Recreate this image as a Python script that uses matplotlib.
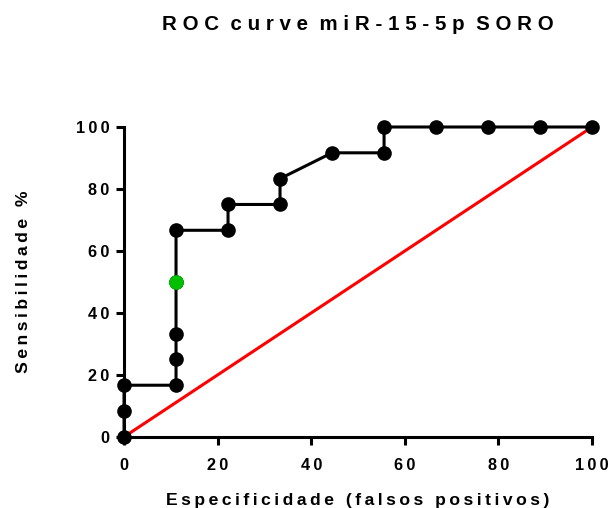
import matplotlib
matplotlib.use("Agg")
import matplotlib.pyplot as plt

plt.rcParams['font.family'] = ['Liberation Sans', 'DejaVu Sans']

# ROC data (100 - specificity, sensitivity)
fpr = [0, 0, 0, 11.11, 11.11, 11.11, 11.11, 11.11, 22.22, 22.22, 33.33, 33.33,
       44.44, 55.56, 55.56, 66.67, 77.78, 88.89, 100]
sens = [0, 8.33, 16.67, 16.67, 25, 33.33, 50, 66.67, 66.67, 75, 75, 83.33,
        91.67, 91.67, 100, 100, 100, 100, 100]
highlight_x = [11.11]
highlight_y = [50]
ref_x = [0, 100]
ref_y = [0, 100]
ticks = [0, 20, 40, 60, 80, 100]

title = "ROC curve miR-15-5p SORO"
xlabel = "Especificidade (falsos positivos)"
ylabel = "Sensibilidade %"

def spaced(s):
    return " ".join(list(s)).replace("   ", "  ")

def thin(s):
    return "\u2009".join(list(s))

fig = plt.figure(figsize=(6.11, 5.08), dpi=100)
ax = fig.add_axes([0.203, 0.140, 0.766, 0.610])

ax.plot(ref_x, ref_y, color='#ff0000', lw=2.2, zorder=2, clip_on=False)
ax.plot(fpr, sens, color='black', lw=2.2, marker='o', markersize=9.5,
        zorder=3, clip_on=False)
ax.plot(highlight_x, highlight_y, linestyle='none', marker='o', markersize=9.5,
        color='#00c000', zorder=4, clip_on=False)

ax.set_xlim(0, 100)
ax.set_ylim(0, 100)
ax.set_xticks(ticks)
ax.set_yticks(ticks)
ax.set_xticklabels([thin(str(t)) for t in ticks], fontsize=11.7, fontweight='bold')
ax.set_yticklabels([thin(str(t)) for t in ticks], fontsize=11.7, fontweight='bold')
for s in ['top', 'right']:
    ax.spines[s].set_visible(False)
for s in ['left', 'bottom']:
    ax.spines[s].set_linewidth(2.2)
ax.tick_params(direction='out', length=5.5, width=2.2)
ax.tick_params(axis='x', pad=9.5)
ax.tick_params(axis='y', pad=5)

ax.set_xlabel(thin(xlabel), fontsize=12.6, fontweight='bold', va='center')
ax.xaxis.set_label_coords(0.5, -0.2065)
ax.set_ylabel(thin(ylabel), fontsize=12.6, fontweight='bold', va='center')
ax.yaxis.set_label_coords(-0.2143, 0.502)
fig.text(0.585, 0.952, spaced(title), fontsize=14.8, fontweight='bold',
         ha='center', va='center')

fig.savefig("out.png", dpi=100)
